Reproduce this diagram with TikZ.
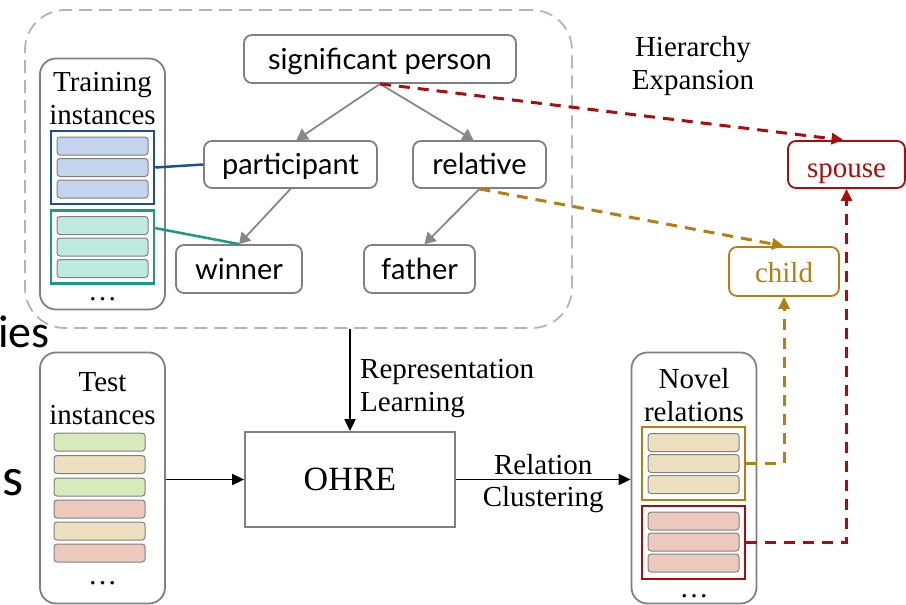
\documentclass[tikz,border=0pt]{standalone}
\usepackage{fontspec}
\setmainfont{Liberation Serif}
\newfontfamily\treefont{Lato}
\newfontfamily\slidefont{Carlito}
\usetikzlibrary{arrows.meta,calc}

\definecolor{boxgray}{HTML}{808080}
\definecolor{dashgray}{HTML}{B4B4B4}
\definecolor{treegray}{HTML}{878787}
\definecolor{grpblue}{HTML}{1D4E9E}
\definecolor{barblue}{HTML}{C4D3EE}
\definecolor{grpteal}{HTML}{1A9A82}
\definecolor{barteal}{HTML}{BFEADF}
\definecolor{relred}{HTML}{B00B0B}
\definecolor{relgold}{HTML}{B57E0E}
\definecolor{bargreen}{HTML}{D8EABC}
\definecolor{bartan}{HTML}{EBDFBF}
\definecolor{barpink}{HTML}{ECC8BD}

\tikzset{
  txt/.style={font=\fontsize{29}{33}\selectfont, inner sep=0pt, align=center},
  treebox/.style={draw=boxgray, line width=1.8pt, rounded corners=8pt, fill=white,
    inner sep=0pt, text height=20pt, text depth=0pt, font=\treefont\fontsize{29}{33}\selectfont},
  newrel/.style={draw=#1, text=#1, line width=1.8pt, rounded corners=8pt, fill=white,
    inner sep=0pt, text depth=0pt, font=\fontsize{29}{33}\selectfont},
  panel/.style={draw=boxgray, line width=1.8pt, rounded corners=16pt,
    minimum width=125pt, minimum height=251pt, inner sep=0pt},
  grp/.style={draw=#1, line width=2.5pt, minimum width=103pt, minimum height=73pt, inner sep=0pt},
  bar/.style={draw=boxgray, line width=1pt, rounded corners=3pt, fill=#1,
    minimum width=91pt, minimum height=18pt, inner sep=0pt},
  treearrow/.style={draw=treegray, line width=1.8pt, -{Triangle[length=11pt,width=13pt]}},
  flow/.style={draw=black, line width=1.8pt, -{Triangle[length=12pt,width=11pt]}},
  expand/.style={draw=#1, line width=3pt, dash pattern=on 11pt off 8pt,
    -{Triangle[length=12pt,width=11pt]}},
  link/.style={draw=#1, line width=2.5pt},
  slide/.style={font=\slidefont\fontsize{#1}{60}\selectfont, inner sep=0pt, anchor=base east},
}

\begin{document}
\begin{tikzpicture}[x=1pt,y=-1pt]
\useasboundingbox (0,0) rectangle (906,605);

% fragments of larger slide text at the left edge
\node[slide=46] (fragA) at (50,347) {ies};
\node[slide=54] (fragB) at (24,495) {s};

% hierarchy container
\node[draw=dashgray, line width=1.8pt, dash pattern=on 13pt off 7pt, rounded corners=40pt,
  minimum width=547pt, minimum height=318pt, inner sep=0pt] (hier) at (298.5,169) {};

% training instances panel
\node[panel] (train) at (102.5,184) {};
\node[txt] (traint) at (102.5,99) {Training\\instances};
\node[grp=grpblue] (gblue) at (102.5,167.5) {};
\node[bar=barblue] (b1) at (102.5,146) {};
\node[bar=barblue] (b2) at (102.5,167.5) {};
\node[bar=barblue] (b3) at (102.5,189) {};
\node[grp=grpteal] (gteal) at (102.5,247) {};
\node[bar=barteal] (t1) at (102.5,225.5) {};
\node[bar=barteal] (t2) at (102.5,247) {};
\node[bar=barteal] (t3) at (102.5,268.5) {};
\node[txt, anchor=base] (traind) at (102.5,300) {\dots};

% relation hierarchy
\node[treebox, minimum width=272pt, minimum height=48pt] (sig) at (380,59) {significant person};
\node[treebox, minimum width=173pt, minimum height=47pt] (part) at (290.5,164.5) {participant};
\node[treebox, minimum width=133pt, minimum height=47pt] (rel) at (479.5,164.5) {relative};
\node[treebox, minimum width=126pt, minimum height=48pt] (win) at (239,269) {winner};
\node[treebox, minimum width=111pt, minimum height=48pt] (fath) at (419.5,269) {father};

\draw[treearrow] (sig.south) -- ([xshift=6pt]part.north);
\draw[treearrow] (sig.south) -- ([xshift=-6pt]rel.north);
\draw[treearrow] (part.south) -- (win.north);
\draw[treearrow] (rel.south) -- ([xshift=5pt]fath.north);

\draw[link=grpblue] (gblue.east) -- (part.west);
\draw[link=grpteal] ($(gteal.north east)!0.25!(gteal.south east)$) -- (win.north);

% newly attached relations
\node[txt] (hexp) at (693,66) {Hierarchy\\Expansion};
\node[newrel=relred, text height=25pt, minimum width=117pt, minimum height=47pt] (spouse) at (846.5,164.5) {spouse};
\node[newrel=relgold, text height=22pt, minimum width=110pt, minimum height=49pt] (child) at (784,271.5) {child};

\draw[expand=relred] (sig.south) -- ([xshift=-3pt]spouse.north);
\draw[expand=relgold] (rel.south) -- (child.north);

% test instances panel
\node[panel] (test) at (102.5,478) {};
\node[txt] (testt) at (102.5,399) {Test\\instances};
\node[bar=bargreen] (s1) at (99.5,442) {};
\node[bar=bartan] (s2) at (99.5,464.5) {};
\node[bar=bargreen] (s3) at (99.5,487) {};
\node[bar=barpink] (s4) at (99.5,509) {};
\node[bar=bartan] (s5) at (99.5,531) {};
\node[bar=barpink] (s6) at (99.5,553) {};
\node[txt, anchor=base] (testd) at (102.5,584) {\dots};

% model
\node[draw=boxgray, line width=1.8pt, minimum width=210pt, minimum height=95pt, inner sep=0pt,
  font=\fontsize{34}{38}\selectfont] (ohre) at (350,479.5) {OHRE};

\draw[flow] (ohre.north |- hier.south) -- (ohre.north);
\node[txt, align=left, anchor=west] (replab) at (360,389) {Representation\\Learning};
\draw[flow] (test.east |- ohre.west) -- (ohre.west);

% novel relations panel
\node[panel] (novel) at (694,478) {};
\node[txt] (novelt) at (694,395) {Novel\\relations};
\node[grp=relgold] (ggold) at (693.5,463.5) {};
\node[bar=bartan] (n1) at (693.5,442.5) {};
\node[bar=bartan] (n2) at (693.5,463.5) {};
\node[bar=bartan] (n3) at (693.5,484.5) {};
\node[grp=relred] (gred) at (693.5,542.5) {};
\node[bar=barpink] (n4) at (693.5,521) {};
\node[bar=barpink] (n5) at (693.5,542) {};
\node[bar=barpink] (n6) at (693.5,563) {};
\node[txt, anchor=base] (noveld) at (694,597) {\dots};

\draw[flow] (ohre.east) -- (novel.west |- ohre.east)
  node[txt, midway, above=4pt] (clusta) {Relation}
  node[txt, midway, below=6pt] (clustb) {Clustering};

\draw[expand=relgold] (ggold.east) -| (child.south);
\draw[expand=relred] (gred.east) -| (spouse.south);
\end{tikzpicture}
\end{document}
